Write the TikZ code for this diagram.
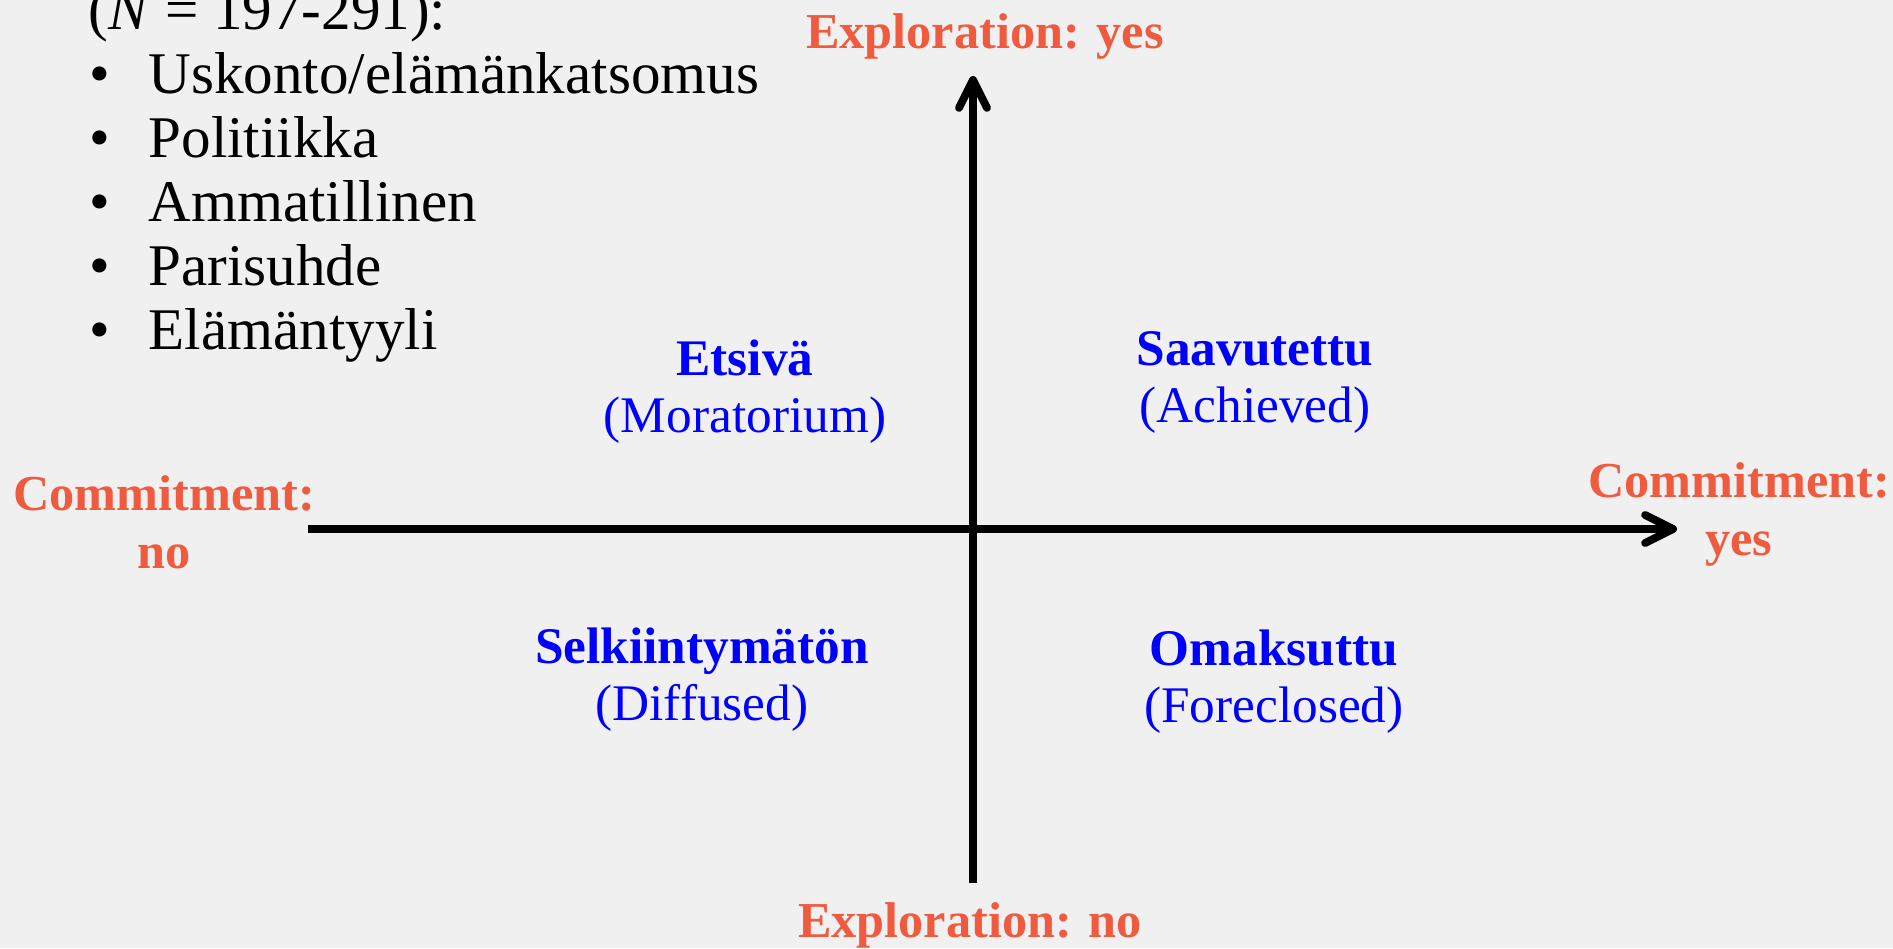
\documentclass[tikz,border=0pt]{standalone}
\usepackage{fontspec}
\setmainfont{Liberation Serif}
\usetikzlibrary{arrows.meta,positioning}
\definecolor{slidegray}{HTML}{F0F0F0}
\definecolor{axisorange}{HTML}{F05A3E}
\definecolor{statusblue}{HTML}{0000FF}
\newcommand{\listbullet}{\makebox[0.59cm][l]{\textbullet}}

\begin{document}
\begin{tikzpicture}[
    x=0.01cm, y=-0.01cm,
    listtext/.style={anchor=base west, inner sep=0pt,
        font=\fontsize{16.8pt}{19pt}\selectfont},
    axis/.style={line width=0.78mm, draw=black,
        -{Straight Barb[length=2.8mm, width=2.8mm, round]}},
    axislabel/.style={text=axisorange, align=center, inner sep=0pt,
        font=\bfseries\fontsize{14.3pt}{16.4pt}\selectfont},
    status/.style={text=statusblue, align=center, inner sep=0pt,
        font=\fontsize{14.6pt}{16.2pt}\selectfont}
]

% slide background
\fill[slidegray] (0,0) rectangle (1893,948);
\useasboundingbox (0,0) rectangle (1893,948);

% domain list
\node[listtext] (sample) at (88,29) {(\textit{N} = 197-291):};
\node[listtext] (religion) at (89,93) {\listbullet Uskonto/elämänkatsomus};
\node[listtext] (politics) at (89,157) {\listbullet Politiikka};
\node[listtext] (career) at (89,221) {\listbullet Ammatillinen};
\node[listtext] (dating) at (89,285) {\listbullet Parisuhde};
\node[listtext] (lifestyle) at (89,349) {\listbullet Elämäntyyli};

% axes
\coordinate (xstart) at (308,529);
\coordinate (xend) at (1677,529);
\coordinate (ystart) at (973,883);
\coordinate (yend) at (973,76);
\draw[axis] (xstart) -- (xend);
\draw[axis] (ystart) -- (yend);

% axis labels (base = last line)
\node[axislabel, anchor=base] (expyes) at (985,48) {Exploration: yes};
\node[axislabel, anchor=base] (expno) at (970,937) {Exploration: no};
\node[axislabel, anchor=base] (comno) at (164,568) {Commitment:\\no};
\node[axislabel, anchor=base] (comyes) at (1739,555) {Commitment:\\yes};

% identity statuses
\node[status, anchor=base] (moratorium) at (745,432) {\textbf{Etsivä}\\(Moratorium)};
\node[status, anchor=base] (achieved) at (1255,422) {\textbf{Saavutettu}\\(Achieved)};
\node[status, anchor=base] (diffused) at (702,720) {\textbf{Selkiintymätön}\\(Diffused)};
\node[status, anchor=base] (foreclosed) at (1274,722) {\textbf{Omaksuttu}\\(Foreclosed)};

\end{tikzpicture}
\end{document}
